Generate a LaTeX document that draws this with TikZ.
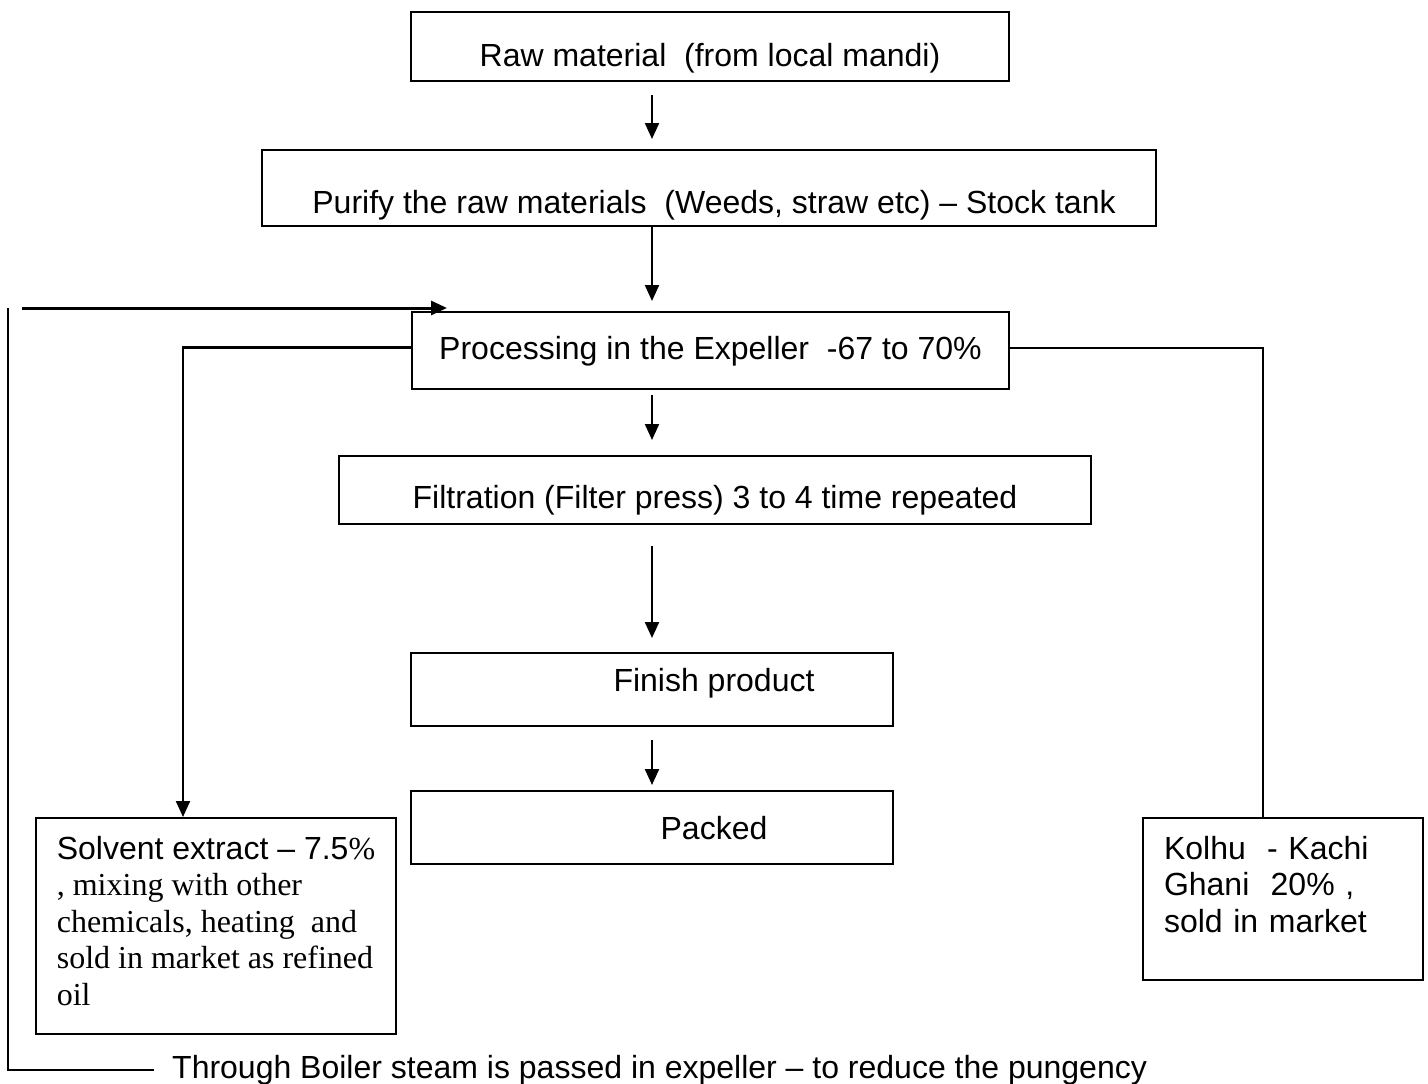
\documentclass[tikz,border=0pt]{standalone}
\usepackage{fontspec}
\setmainfont{Liberation Sans}
\newfontfamily\serifpart{Liberation Serif}
\usetikzlibrary{arrows.meta}

\tikzset{
  stage/.style={draw, line width=2pt, inner sep=0pt, anchor=north west,
    font=\fontsize{32}{36.6}\selectfont},
  flow/.style={-{Triangle[length=16pt,width=14pt]}, line width=2.2pt},
  branch/.style={line width=2pt},
}

\begin{document}
\begin{tikzpicture}[x=1pt, y=-1pt]
\useasboundingbox (0,0) rectangle (1428,1084);
% main line of the process
\node[stage, minimum width=598pt, text height=54pt, text depth=15pt] (raw) at (410,11) {Raw material\ \ (from local mandi)};
\node[stage, minimum width=894pt, text height=63pt, text depth=13pt] (purify) at (261,149) {\hspace*{10pt}Purify the raw materials\ \ (Weeds, straw etc) -- Stock tank};
\node[stage, minimum width=597pt, text height=47pt, text depth=30pt] (expeller) at (411,311) {Processing in the Expeller\ \ -67 to 70\%};
\node[stage, minimum width=752pt, text height=52pt, text depth=16pt] (filter) at (338,455) {Filtration (Filter press) 3 to 4 time repeated};
\node[stage, minimum width=482pt, text height=38pt, text depth=35pt] (finish) at (410,652) {\hspace*{124pt}Finish product};
\node[stage, minimum width=482pt, text height=48pt, text depth=25pt] (packed) at (410,790) {\hspace*{124pt}Packed};
% side products
\node[stage, align=left, minimum width=360pt, text height=187.4pt, text depth=28.6pt] (solvent) at (35,817) {Solvent extract -- 7.5{\serifpart\%}\\ \serifpart , mixing with other\\ \serifpart chemicals, heating\ \ and\\ \serifpart sold in market as refined\\ \serifpart oil};
\node[stage, align=left, text width=238pt, inner xsep=21pt, text height=41pt, text depth=121pt] (kolhu) at (1142,817) {Kolhu\ \ - Kachi\\ Ghani\ \ 20\% ,\\ sold in market};
\node[anchor=base west, inner xsep=18pt, inner ysep=0pt, font=\fontsize{32}{36.6}\selectfont] (steam) at (154,1078) {Through Boiler steam is passed in expeller -- to reduce the pungency};
\coordinate (steamtop) at (8,308);
\coordinate (steamfrom) at (22,308);
\coordinate (steamin) at (447,308);

\draw[flow, shorten <=13pt, shorten >=10pt] (raw.south -| finish.north) -- (purify.north -| finish.north);
\draw[flow, shorten >=10pt] (purify.south -| finish.north) -- (expeller.north -| finish.north);
\draw[flow, shorten <=5pt, shorten >=15pt] (expeller.south -| finish.north) -- (filter.north -| finish.north);
\draw[flow, shorten <=21pt, shorten >=14pt] (filter.south -| finish.north) -- (finish.north);
\draw[flow, shorten <=13pt, shorten >=5pt] (finish.south) -- (packed.north);

\draw[flow] ([yshift=3pt]expeller.west) -| ([xshift=-33pt]solvent.north);
\draw[branch] ([yshift=3pt]expeller.east) -| ([xshift=-20pt]kolhu.north);

\draw[branch] (steam.west) -| (steamtop);
\draw[flow, line width=3pt] (steamfrom) -- (steamin);
\end{tikzpicture}
\end{document}
